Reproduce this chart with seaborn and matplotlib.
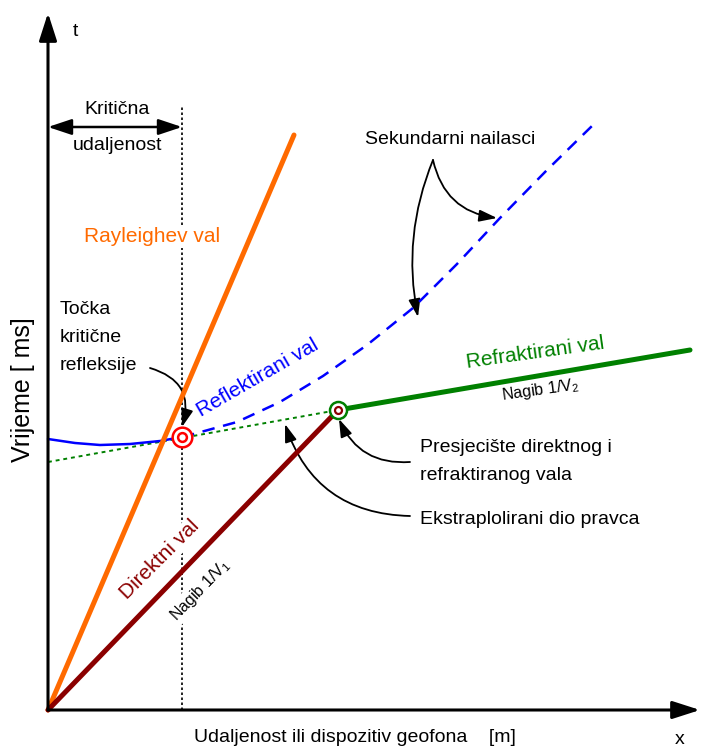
import numpy as np
import pandas as pd
import matplotlib
matplotlib.use('Agg')
import matplotlib.pyplot as plt
import seaborn as sns

# Schematic travel-time data (x = distance, t = time, arbitrary units)
rayleigh_x = [0, 246]
rayleigh_t = [0, 575]

direct_x = [0, 290]
direct_t = [0, 300]

refract_x = [290, 642]
refract_t = [300, 360]

extrap_x = [0, 290]
extrap_t = [248, 300]

reflect_solid_x = [0, 27, 52, 82, 112, 134]
reflect_solid_t = [271, 267, 265, 266, 269, 273]

reflect_dash_x = [134, 142, 189, 232, 275, 319, 365, 409, 452, 499, 545]
reflect_dash_t = [273, 275, 288, 308, 334, 365, 402, 446, 492, 540, 585]

critical_x = 134
critical_top = 605
crossover = (290, 300)
critical_pt = (134, 273)

sns.set_theme(style='white')
plt.rcParams['font.family'] = ['Liberation Sans Narrow', 'Liberation Sans', 'DejaVu Sans']
plt.rcParams['mathtext.default'] = 'regular'
plt.rcParams['text.color'] = 'black'

fig = plt.figure(figsize=(7.02, 7.51), dpi=100)
ax = fig.add_axes([0, 0, 1, 1])
ax.set_xlim(-48, 654)
ax.set_ylim(-41, 710)
ax.axis('off')

ORANGE = '#ff6a00'
DARKRED = '#8b0000'
GREEN = '#008000'
BLUE = '#0000ff'

# axes with arrows
arr = dict(arrowstyle='-|>,head_length=1.4,head_width=0.45', color='black', lw=2.2, shrinkA=0, shrinkB=0)
ax.annotate('', xy=(0, 697), xytext=(0, 0), arrowprops=arr, zorder=6)
ax.annotate('', xy=(652, 0), xytext=(0, 0), arrowprops=arr, zorder=6)


def line(xs, ts, **kw):
    df = pd.DataFrame({'x': xs, 't': ts})
    sns.lineplot(data=df, x='x', y='t', ax=ax, sort=False, estimator=None, **kw)


# critical distance line (behind the labels)
line([critical_x, critical_x], [0, critical_top], color='black', lw=1.2,
     linestyle=(0, (1.5, 1.5)), zorder=1)

# waves
line(extrap_x, extrap_t, color=GREEN, lw=1.4, linestyle=(0, (2, 2)), zorder=4)
line(reflect_solid_x, reflect_solid_t, color=BLUE, lw=1.8, zorder=4)
line(reflect_dash_x, reflect_dash_t, color=BLUE, lw=1.8, linestyle=(0, (5, 3.5)), zorder=4)
line(rayleigh_x, rayleigh_t, color=ORANGE, lw=3.6, solid_capstyle='round', zorder=4)
line(direct_x, direct_t, color=DARKRED, lw=3.6, solid_capstyle='round', zorder=4)
line(refract_x, refract_t, color=GREEN, lw=3.6, solid_capstyle='round', zorder=4)

# markers
ax.scatter([critical_pt[0]], [critical_pt[1]], s=200, facecolor='white', edgecolor='red', lw=1.8, zorder=5)
ax.scatter([critical_pt[0]], [critical_pt[1]], s=40, facecolor='white', edgecolor='red', lw=1.8, zorder=6)
ax.scatter([crossover[0]], [crossover[1]], s=150, facecolor='white', edgecolor=GREEN, lw=1.8, zorder=5)
ax.scatter([crossover[0]], [crossover[1]], s=25, facecolor='white', edgecolor=DARKRED, lw=1.6, zorder=6)

# critical distance double arrow
ax.annotate('', xy=(0, 583), xytext=(critical_x, 583),
            arrowprops=dict(arrowstyle='<|-|>,head_length=1.2,head_width=0.4', color='black', lw=1.8,
                            shrinkA=0, shrinkB=0))

fs = 14
white = dict(facecolor='white', edgecolor='none', pad=1)
ax.text(27, 678, 't', fontsize=fs, ha='center', va='center')
ax.text(632, -30, 'x', fontsize=fs, ha='center', va='center')
ax.text(307, -28, 'Udaljenost ili dispozitiv geofona    [m]', fontsize=fs, ha='center', va='center')
ax.text(-25, 320, 'Vrijeme [ ms]', fontsize=18, ha='center', va='center', rotation=90)
ax.text(69, 600, 'Kritična', fontsize=fs, ha='center', va='center')
ax.text(69, 565, 'udaljenost', fontsize=fs, ha='center', va='center')

ax.text(104, 473, 'Rayleighev val', fontsize=15, color=ORANGE, ha='center', va='center',
        bbox=white, zorder=3)
ax.text(210, 332, 'Reflektirani val', fontsize=15, color=BLUE, ha='center', va='center', rotation=30)
ax.text(487, 357, 'Refraktirani val', fontsize=15, color=GREEN, ha='center', va='center', rotation=8)
ax.text(492, 320, 'Nagib 1/V$_2$', fontsize=11.5, ha='center', va='center', rotation=8)
ax.text(112, 150, 'Direktni val', fontsize=15, color=DARKRED, ha='center', va='center', rotation=45,
        bbox=white, zorder=3)
ax.text(152, 120, 'Nagib 1/V$_1$', fontsize=11.5, ha='center', va='center', rotation=46,
        bbox=white, zorder=3)

ax.text(12, 400, 'Točka', fontsize=fs, ha='left', va='center')
ax.text(12, 372, 'kritične', fontsize=fs, ha='left', va='center')
ax.text(12, 345, 'refleksije', fontsize=fs, ha='left', va='center')
ax.text(402, 570, 'Sekundarni nailasci', fontsize=fs, ha='center', va='center')
ax.text(372, 263, 'Presjecište direktnog i', fontsize=fs, ha='left', va='center')
ax.text(372, 234, 'refraktiranog vala', fontsize=fs, ha='left', va='center')
ax.text(372, 191, 'Ekstraplolirani dio pravca', fontsize=fs, ha='left', va='center')

# pointer arrows
ptr = dict(arrowstyle='-|>,head_length=0.9,head_width=0.3', color='black', lw=1.3, shrinkA=0, shrinkB=0)
ax.annotate('', xy=(134, 283), xytext=(102, 342), arrowprops=dict(ptr, connectionstyle='arc3,rad=-0.5'))
ax.annotate('', xy=(449, 492), xytext=(385, 550), arrowprops=dict(ptr, connectionstyle='arc3,rad=0.35'))
ax.annotate('', xy=(370, 393), xytext=(385, 550), arrowprops=dict(ptr, connectionstyle='arc3,rad=0.15'))
ax.annotate('', xy=(291, 291), xytext=(362, 248), arrowprops=dict(ptr, connectionstyle='arc3,rad=-0.35'))
ax.annotate('', xy=(237, 286), xytext=(362, 194), arrowprops=dict(ptr, connectionstyle='arc3,rad=-0.35'))

fig.savefig('out.png', dpi=100)
